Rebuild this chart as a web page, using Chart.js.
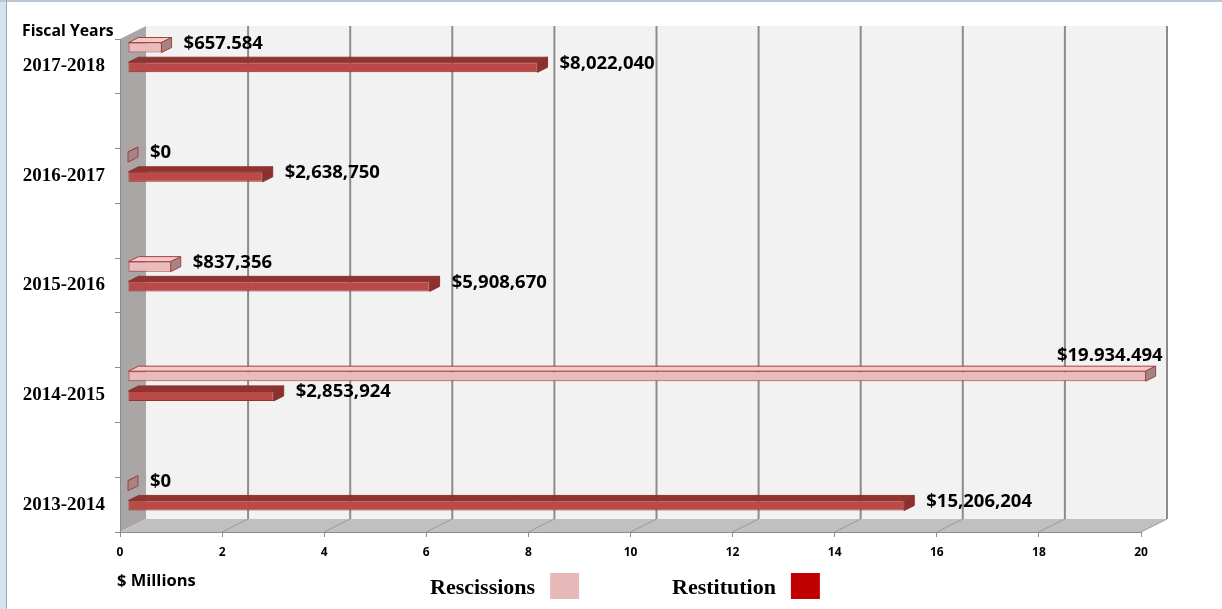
<!DOCTYPE html>
<html>
<head>
<meta charset="utf-8">
<script src="https://cdn.jsdelivr.net/npm/chart.js@4/dist/chart.umd.min.js"></script>
<style>
  body { margin: 0; background: #fff; }
  canvas { display: block; }
</style>
</head>
<body>
<canvas id="fiscalChart" width="1222" height="609"></canvas>
<script>
// fiscal years, top to bottom
var years = ['2017-2018', '2016-2017', '2015-2016', '2014-2015', '2013-2014'];
// dollars
var rescissions = [657584, 0, 837356, 19934494, 0];
var restitution = [8022040, 2638750, 5908670, 2853924, 15206204];
// value labels as printed on the chart
var rescissionText = ['$657.584', '$0', '$837,356', '$19.934.494', '$0'];
var restitutionText = ['$8,022,040', '$2,638,750', '$5,908,670', '$2,853,924', '$15,206,204'];
var xMin = 0, xMax = 20, xStep = 2;

// the year rows sit in every other slot of the category axis
function slots(arr, blank) {
   var out = [];
   arr.forEach(function(v, i) {
      if (i) out.push(blank);
      out.push(v);
   });
   return out;
}
function millions(arr) {
   return arr.map(function(v) { return v / 1e6; });
}

var DEPTH = {x: 26, y: -13};   // wall depth
var BAR_SHIFT = {x: 8, y: -9}; // bars sit a bit inside the box
var BAR_DEPTH = {x: 10, y: -5};
var labelFont = 'bold 18.5px "Open Sans"';

var box3d = {
   id: 'box3d',
   beforeDraw: function(chart) {
      var ctx = chart.ctx, a = chart.chartArea, xs = chart.scales.x;
      ctx.save();
      ctx.fillStyle = '#fff';
      ctx.fillRect(0, 0, chart.width, chart.height);
      // window frame
      ctx.fillStyle = '#d4e3ef';
      ctx.fillRect(0, 0, 6, chart.height);
      ctx.fillStyle = '#b9c8d4';
      ctx.fillRect(0, 0, chart.width, 2);
      ctx.fillStyle = '#9aa6b0';
      ctx.fillRect(6, 0, 1, chart.height);

      var L = a.left, R = a.right, T = a.top, B = a.bottom, dx = DEPTH.x, dy = DEPTH.y;
      // back wall
      ctx.fillStyle = '#f2f2f2';
      ctx.fillRect(L + dx, T + dy, R - L, B - T);
      // left wall
      ctx.fillStyle = '#aaa6a6';
      ctx.beginPath();
      ctx.moveTo(L, T); ctx.lineTo(L + dx, T + dy); ctx.lineTo(L + dx, B + dy); ctx.lineTo(L, B);
      ctx.closePath(); ctx.fill();
      // floor
      ctx.fillStyle = '#c0c0c0';
      ctx.beginPath();
      ctx.moveTo(L, B); ctx.lineTo(L + dx, B + dy); ctx.lineTo(R + dx, B + dy); ctx.lineTo(R, B);
      ctx.closePath(); ctx.fill();
      // grid lines on back wall and floor
      for (var v = xMin + xStep; v <= xMax; v += xStep) {
         var px = xs.getPixelForValue(v);
         ctx.strokeStyle = '#8c8c8c';
         ctx.lineWidth = 2;
         ctx.beginPath();
         ctx.moveTo(px + dx, T + dy); ctx.lineTo(px + dx, B + dy);
         ctx.stroke();
         ctx.lineWidth = 1;
         ctx.strokeStyle = '#999';
         ctx.beginPath();
         ctx.moveTo(px, B); ctx.lineTo(px + dx, B + dy);
         ctx.stroke();
      }
      ctx.restore();
   },
   beforeDatasetsDraw: function(chart) {
      chart.ctx.save();
      chart.ctx.translate(BAR_SHIFT.x, BAR_SHIFT.y);
   },
   afterDatasetsDraw: function(chart) {
      var ctx = chart.ctx;
      chart.data.datasets.forEach(function(ds, di) {
         var meta = chart.getDatasetMeta(di);
         meta.data.forEach(function(bar, i) {
            if (ds.data[i] === null) return;
            var p = bar.getProps(['x', 'y', 'base', 'height'], true);
            var x0 = p.base, x1 = p.x, top = p.y - p.height / 2, bot = p.y + p.height / 2;
            var dx = BAR_DEPTH.x, dy = BAR_DEPTH.y;
            ctx.lineWidth = 1;
            ctx.strokeStyle = ds.borderColor;
            // top face
            ctx.fillStyle = ds.topColor;
            ctx.beginPath();
            ctx.moveTo(x0, top); ctx.lineTo(x0 + dx, top + dy); ctx.lineTo(x1 + dx, top + dy); ctx.lineTo(x1, top);
            ctx.closePath(); ctx.fill(); ctx.stroke();
            // side face
            ctx.fillStyle = ds.sideColor;
            ctx.beginPath();
            ctx.moveTo(x1, top); ctx.lineTo(x1 + dx, top + dy); ctx.lineTo(x1 + dx, bot + dy); ctx.lineTo(x1, bot);
            ctx.closePath(); ctx.fill(); ctx.stroke();

            // value label
            var txt = ds.texts[i];
            ctx.font = labelFont;
            ctx.fillStyle = '#000';
            ctx.textBaseline = 'middle';
            var w = ctx.measureText(txt).width;
            var lx = x1 + dx + 12;
            if (lx + BAR_SHIFT.x + w > chart.width - 6) {
               ctx.textAlign = 'right';
               ctx.fillText(txt, x1 + dx + 7, top - 15);
            } else {
               ctx.textAlign = 'left';
               ctx.fillText(txt, lx, p.y - 4);
            }
         });
      });
      ctx.restore();
   },
   afterDraw: function(chart) {
      var ctx = chart.ctx;
      ctx.save();
      ctx.fillStyle = '#000';
      ctx.textBaseline = 'alphabetic';
      ctx.textAlign = 'left';
      ctx.font = 'bold 15.8px "Open Sans"';
      ctx.fillText('Fiscal Years', 22, 36);
      ctx.font = 'bold 16.5px "Open Sans"';
      ctx.fillText('$ Millions', 117, 586);
      // legend, swatch to the right of the name
      var lx = [430, 672];
      chart.data.datasets.forEach(function(ds, i) {
         ctx.font = 'bold 22px "Liberation Serif"';
         ctx.fillStyle = '#000';
         ctx.fillText(ds.label, lx[i], 594);
         var w = ctx.measureText(ds.label).width;
         ctx.fillStyle = ds.legendColor;
         ctx.fillRect(lx[i] + w + 15, 573, 29, 26);
      });
      ctx.restore();
   }
};

var config = {
   type: 'bar',
   data: {
      labels: slots(years, ''),
      datasets: [{
         label: 'Rescissions',
         data: slots(millions(rescissions), null),
         texts: slots(rescissionText, null),
         backgroundColor: '#ebbaba',
         borderColor: '#a8403e',
         topColor: '#f1c9c9',
         sideColor: '#a48585',
         legendColor: '#e6b8b7',
         borderWidth: 1,
         borderSkipped: false
      }, {
         label: 'Restitution',
         data: slots(millions(restitution), null),
         texts: slots(restitutionText, null),
         backgroundColor: '#b94a47',
         borderColor: '#8f3230',
         topColor: '#8e3532',
         sideColor: '#8a302e',
         legendColor: '#c00000',
         borderWidth: 1,
         borderSkipped: false
      }]
   },
   options: {
      indexAxis: 'y',
      responsive: false,
      animation: false,
      barPercentage: 0.51,
      categoryPercentage: 0.72,
      layout: { padding: { left: 0, right: 81, top: 39, bottom: 0 } },
      plugins: { legend: { display: false }, tooltip: { enabled: false } },
      scales: {
         x: {
            type: 'linear',
            min: xMin,
            max: xMax,
            afterFit: function(s) { s.height = 77; },
            ticks: {
               stepSize: xStep,
               color: '#000',
               font: { family: 'Open Sans', weight: 'bold', size: 12 },
               padding: 8,
               maxRotation: 0
            },
            grid: { drawOnChartArea: false, tickLength: 5, color: '#8c8c8c' },
            border: { color: '#8c8c8c' }
         },
         y: {
            afterFit: function(s) { s.width = 120; },
            ticks: {
               color: '#000',
               font: { family: 'Liberation Serif', weight: 'bold', size: 19 },
               padding: 10,
               autoSkip: false
            },
            grid: { drawOnChartArea: false, tickLength: 5, color: '#8c8c8c', offset: true },
            border: { color: '#8c8c8c' }
         }
      }
   },
   plugins: [box3d]
};

var fiscalChart = new Chart(document.getElementById('fiscalChart'), config);
</script>
</body>
</html>
